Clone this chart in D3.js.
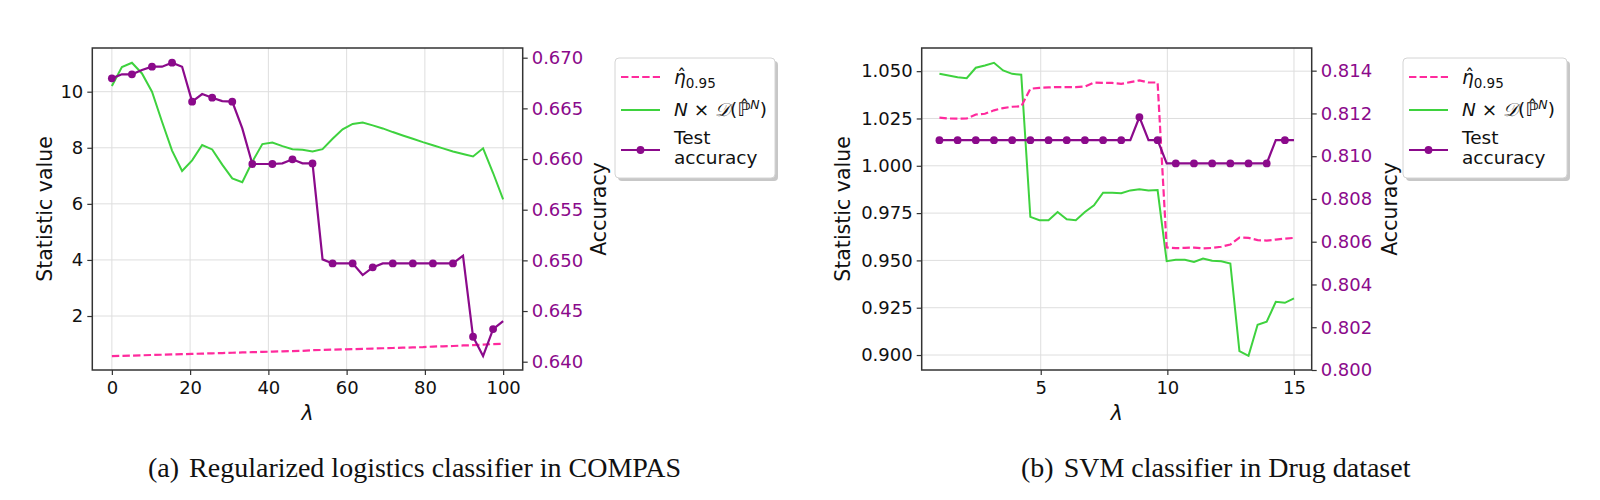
<!DOCTYPE html>
<html>
<head>
<meta charset="utf-8">
<script src="https://cdn.jsdelivr.net/npm/d3@7"></script>
<style>
  body { margin: 0; background: #fff; }
</style>
</head>
<body>
<div id="container"></div>
<script>
/* DATA */
// (a) COMPAS, regularized logistic classifier
const lambdaA = [0, 2.564, 5.128, 7.692, 10.256, 12.821, 15.385, 17.949, 20.513, 23.077,
  25.641, 28.205, 30.769, 33.333, 35.897, 38.462, 41.026, 43.590, 46.154, 48.718,
  51.282, 53.846, 56.410, 58.974, 61.538, 64.103, 66.667, 69.231, 71.795, 74.359,
  76.923, 79.487, 82.051, 84.615, 87.179, 89.744, 92.308, 94.872, 97.436, 100];
const etaA = [0.57, 0.58, 0.59, 0.60, 0.61, 0.62, 0.63, 0.64, 0.65, 0.66,
  0.67, 0.68, 0.69, 0.70, 0.71, 0.72, 0.73, 0.74, 0.75, 0.76,
  0.78, 0.79, 0.80, 0.81, 0.82, 0.83, 0.84, 0.85, 0.86, 0.87,
  0.88, 0.89, 0.91, 0.92, 0.93, 0.95, 0.96, 0.98, 1.00, 1.01];
const statA = [10.20, 10.88, 11.03, 10.65, 10.00, 8.93, 7.90, 7.17, 7.55, 8.10,
  7.94, 7.40, 6.91, 6.77, 7.50, 8.13, 8.19, 8.06, 7.95, 7.93,
  7.87, 7.95, 8.32, 8.66, 8.85, 8.90, 8.80, 8.69, 8.56, 8.44,
  8.32, 8.20, 8.09, 7.98, 7.87, 7.78, 7.69, 7.98, 7.10, 6.16];
const accA = [0.66796, 0.66836, 0.66836, 0.66878, 0.66911, 0.66911, 0.66951, 0.66911, 0.66566, 0.66641,
  0.66605, 0.66572, 0.66566, 0.66303, 0.65951, 0.65951, 0.65951, 0.65957, 0.65997, 0.65957,
  0.65957, 0.65010, 0.64970, 0.64970, 0.64970, 0.64855, 0.64931, 0.64970, 0.64970, 0.64970,
  0.64970, 0.64970, 0.64970, 0.64970, 0.64970, 0.65046, 0.64246, 0.64056, 0.64322, 0.64401];
const xTicksA = [0, 20, 40, 60, 80, 100];
const yTicksA = [2, 4, 6, 8, 10];
const accTicksA = [0.640, 0.645, 0.650, 0.655, 0.660, 0.665, 0.670];

// (b) Drug dataset, SVM classifier
const lambdaB = [1.000, 1.359, 1.718, 2.077, 2.436, 2.795, 3.154, 3.513, 3.872, 4.231,
  4.590, 4.949, 5.308, 5.667, 6.026, 6.385, 6.744, 7.103, 7.462, 7.821,
  8.179, 8.538, 8.897, 9.256, 9.615, 9.974, 10.333, 10.692, 11.051, 11.410,
  11.769, 12.128, 12.487, 12.846, 13.205, 13.564, 13.923, 14.282, 14.641, 15.000];
const etaB = [1.0254, 1.0250, 1.0249, 1.0250, 1.0271, 1.0275, 1.0293, 1.0305, 1.0312, 1.0314,
  1.0407, 1.0412, 1.0414, 1.0416, 1.0416, 1.0416, 1.0419, 1.0440, 1.0438, 1.0438,
  1.0433, 1.0442, 1.0451, 1.0440, 1.0440, 0.9568, 0.9565, 0.9566, 0.9568, 0.9563,
  0.9566, 0.9572, 0.9584, 0.9621, 0.9619, 0.9607, 0.9605, 0.9610, 0.9615, 0.9619];
const statB = [1.0486, 1.0477, 1.0468, 1.0463, 1.0518, 1.0530, 1.0544, 1.0504, 1.0486, 1.0481,
  0.9730, 0.9712, 0.9712, 0.9756, 0.9717, 0.9712, 0.9756, 0.9791, 0.9858, 0.9858,
  0.9855, 0.9870, 0.9876, 0.9870, 0.9872, 0.9496, 0.9503, 0.9503, 0.9492, 0.9510,
  0.9498, 0.9496, 0.9484, 0.9021, 0.8996, 0.9160, 0.9176, 0.9281, 0.9276, 0.9299];
const accB = [0.81075, 0.81075, 0.81075, 0.81075, 0.81075, 0.81075, 0.81075, 0.81075, 0.81075, 0.81075,
  0.81075, 0.81075, 0.81075, 0.81075, 0.81075, 0.81075, 0.81075, 0.81075, 0.81075, 0.81075,
  0.81075, 0.81075, 0.81183, 0.81075, 0.81075, 0.80966, 0.80966, 0.80966, 0.80966, 0.80966,
  0.80966, 0.80966, 0.80966, 0.80966, 0.80966, 0.80966, 0.80966, 0.81075, 0.81075, 0.81075];
const xTicksB = [5, 10, 15];
const yTicksB = [0.900, 0.925, 0.950, 0.975, 1.000, 1.025, 1.050];
const accTicksB = [0.800, 0.802, 0.804, 0.806, 0.808, 0.810, 0.812, 0.814];

const captionA = ["(a)", "Regularized logistics classifier in COMPAS"];
const captionB = ["(b)", "SVM classifier in Drug dataset"];

/* CONSTANTS AND GLOBALS */
const width = 1600;
const height = 500;
const pink = "#ff2a9d";
const green = "#3ed23e";
const purple = "#8b0a8b";

const svg = d3.select("#container")
  .append("svg")
  .attr("width", width)
  .attr("height", height)
  .attr("font-family", "DejaVu Sans");

function drawPanel(p) {
  /* SCALES */
  const x = d3.scaleLinear().domain(p.xDomain).range([p.left, p.right]);
  const y = d3.scaleLinear().domain(p.yDomain).range([p.bottom, p.top]);
  const yAcc = d3.scaleLinear().domain(p.accDomain).range([p.bottom, p.top]);

  const g = svg.append("g");

  // grid
  g.append("g").selectAll("line")
    .data(p.xTicks)
    .join("line")
    .attr("x1", d => x(d)).attr("x2", d => x(d))
    .attr("y1", p.top).attr("y2", p.bottom)
    .attr("stroke", "#dedede").attr("stroke-width", 1);
  g.append("g").selectAll("line")
    .data(p.yTicks)
    .join("line")
    .attr("x1", p.left).attr("x2", p.right)
    .attr("y1", d => y(d)).attr("y2", d => y(d))
    .attr("stroke", "#dedede").attr("stroke-width", 1);

  // axes
  const xAxis = g.append("g")
    .attr("transform", `translate(0,${p.bottom})`)
    .call(d3.axisBottom(x).tickValues(p.xTicks).tickSize(5).tickPadding(6).tickFormat(d3.format("d")));
  const yAxis = g.append("g")
    .attr("transform", `translate(${p.left},0)`)
    .call(d3.axisLeft(y).tickValues(p.yTicks).tickSize(5).tickPadding(4).tickFormat(p.yFormat));
  const accAxis = g.append("g")
    .attr("transform", `translate(${p.right},0)`)
    .call(d3.axisRight(yAcc).tickValues(p.accTicks).tickSize(5).tickPadding(4).tickFormat(d3.format(".3f")));

  [xAxis, yAxis, accAxis].forEach(a => {
    a.select(".domain").remove();
    a.selectAll(".tick line").attr("stroke", "#333").attr("stroke-width", 1.2);
    a.selectAll(".tick text")
      .attr("font-size", 18)
      .attr("font-family", "DejaVu Sans")
      .attr("fill", "#111");
  });
  accAxis.selectAll(".tick text").attr("fill", purple);

  // lines on the statistic axis
  const statLine = vals => d3.line()
    .x((d, i) => x(p.lambda[i]))
    .y(d => y(d))(vals);

  g.append("path")
    .attr("d", statLine(p.stat))
    .attr("fill", "none")
    .attr("stroke", green)
    .attr("stroke-width", 2);

  g.append("path")
    .attr("d", statLine(p.eta))
    .attr("fill", "none")
    .attr("stroke", pink)
    .attr("stroke-width", 2.2)
    .attr("stroke-dasharray", "7.4,3.2");

  // accuracy on the twin axis
  g.append("path")
    .attr("d", d3.line().x((d, i) => x(p.lambda[i])).y(d => yAcc(d))(p.acc))
    .attr("fill", "none")
    .attr("stroke", purple)
    .attr("stroke-width", 2.2);

  g.selectAll(".marker")
    .data(p.acc.map((v, i) => [p.lambda[i], v]).filter((d, i) => i % 2 === 0))
    .join("circle")
    .attr("class", "marker")
    .attr("cx", d => x(d[0]))
    .attr("cy", d => yAcc(d[1]))
    .attr("r", 3.9)
    .attr("fill", purple);

  // frame
  g.append("rect")
    .attr("x", p.left).attr("y", p.top)
    .attr("width", p.right - p.left).attr("height", p.bottom - p.top)
    .attr("fill", "none")
    .attr("stroke", "#333")
    .attr("stroke-width", 1.5);

  // axis labels
  const midY = (p.top + p.bottom) / 2;
  g.append("text")
    .attr("transform", `translate(${p.statLabelX},${midY}) rotate(-90)`)
    .attr("text-anchor", "middle")
    .attr("dominant-baseline", "central")
    .attr("font-size", 20.5)
    .attr("fill", "#111")
    .text("Statistic value");
  g.append("text")
    .attr("transform", `translate(${p.accLabelX},${midY}) rotate(-90)`)
    .attr("text-anchor", "middle")
    .attr("dominant-baseline", "central")
    .attr("font-size", 20.5)
    .attr("fill", "#111")
    .text("Accuracy");
  g.append("text")
    .attr("x", (p.left + p.right) / 2)
    .attr("y", 420)
    .attr("text-anchor", "middle")
    .attr("font-size", 20.5)
    .attr("font-style", "italic")
    .attr("fill", "#111")
    .text("λ");

  // legend
  const lg = g.append("g").attr("transform", `translate(${p.legendX},58)`);
  lg.append("rect")
    .attr("x", 3).attr("y", 3)
    .attr("width", p.legendW).attr("height", 120)
    .attr("rx", 4)
    .attr("fill", "#999").attr("opacity", 0.55);
  lg.append("rect")
    .attr("width", p.legendW).attr("height", 120)
    .attr("rx", 4)
    .attr("fill", "#fff")
    .attr("stroke", "#d4d4d4");

  lg.append("line")
    .attr("x1", 6).attr("x2", 45).attr("y1", 19).attr("y2", 19)
    .attr("stroke", pink).attr("stroke-width", 2.2).attr("stroke-dasharray", "7.4,3.2");
  lg.append("line")
    .attr("x1", 6).attr("x2", 45).attr("y1", 52).attr("y2", 52)
    .attr("stroke", green).attr("stroke-width", 2);
  lg.append("line")
    .attr("x1", 6).attr("x2", 45).attr("y1", 92).attr("y2", 92)
    .attr("stroke", purple).attr("stroke-width", 2.2);
  lg.append("circle")
    .attr("cx", 25.5).attr("cy", 92).attr("r", 3.9).attr("fill", purple);

  const fs = 18.5;
  // eta-hat with subscript, the hat set as its own glyph above the eta
  const t1 = lg.append("text").attr("x", 59).attr("y", 26).attr("font-size", fs).attr("fill", "#111");
  t1.append("tspan").attr("font-style", "italic").text("η");
  t1.append("tspan").attr("font-size", 13.5).attr("dy", 4).text("0.95");
  lg.append("text")
    .attr("x", 66.5).attr("y", 24)
    .attr("text-anchor", "middle")
    .attr("font-size", fs)
    .attr("fill", "#111")
    .text("ˆ");

  const t2 = lg.append("text").attr("x", 59).attr("y", 58).attr("font-size", fs).attr("fill", "#111");
  t2.append("tspan").attr("font-style", "italic").text("N");
  t2.append("tspan").text(" × ");
  t2.append("tspan").attr("font-family", "DejaVu Serif").attr("font-style", "italic").text("𝒟");
  t2.append("tspan").text("(");
  t2.append("tspan").text("ℙ\u0302");
  t2.append("tspan").attr("font-style", "italic").attr("font-size", 12.5).attr("dy", -7).text("N");
  t2.append("tspan").attr("dy", 7).text(")");

  lg.append("text").attr("x", 59).attr("y", 86).attr("font-size", fs).attr("fill", "#111").text("Test");
  lg.append("text").attr("x", 59).attr("y", 106).attr("font-size", fs).attr("fill", "#111").text("accuracy");

  // caption
  const cap = svg.append("text")
    .attr("x", p.captionX)
    .attr("y", 477)
    .attr("font-family", "Liberation Serif")
    .attr("font-size", 28)
    .attr("fill", "#111");
  cap.append("tspan").text(p.caption[0]);
  cap.append("tspan").attr("dx", 10).text(p.caption[1]);
}

drawPanel({
  lambda: lambdaA, eta: etaA, stat: statA, acc: accA,
  xTicks: xTicksA, yTicks: yTicksA, accTicks: accTicksA,
  xDomain: [-5, 105], yDomain: [0.075, 11.558], accDomain: [0.639181, 0.670957],
  left: 92.3, right: 522.7, top: 48, bottom: 370,
  yFormat: d3.format("d"),
  statLabelX: 45, accLabelX: 599,
  legendX: 615, legendW: 160,
  caption: captionA, captionX: 148
});

drawPanel({
  lambda: lambdaB, eta: etaB, stat: statB, acc: accB,
  xTicks: xTicksB, yTicks: yTicksB, accTicks: accTicksB,
  xDomain: [0.3, 15.7], yDomain: [0.89209, 1.06224], accDomain: [0.800, 0.81506],
  left: 921.7, right: 1311.7, top: 48, bottom: 370,
  yFormat: d3.format(".3f"),
  statLabelX: 843, accLabelX: 1390,
  legendX: 1403, legendW: 164,
  caption: captionB, captionX: 1021
});
</script>
</body>
</html>
